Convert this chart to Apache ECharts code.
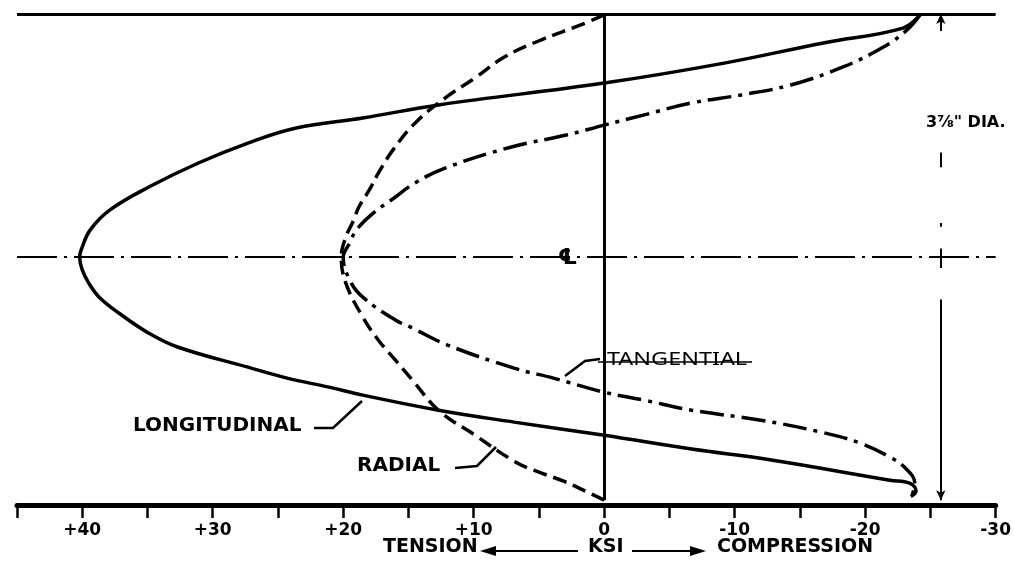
<!DOCTYPE html>
<html>
<head>
<meta charset="utf-8">
<script src="https://cdn.jsdelivr.net/npm/echarts@6/dist/echarts.min.js"></script>
<style>
html,body{margin:0;padding:0;background:#fff;}
#chart{width:1014px;height:567px;}
</style>
</head>
<body>
<div id="chart"></div>
<script>
// Stress (KSI, + = tension) vs. normalized radial position r/R (+1 top surface, -1 bottom surface)
const longitudinal = [[-24.2,0.996],[-22.9,0.942],[-16.8,0.881],[-9.2,0.798],[0,0.716],[12.7,0.626],[18.5,0.572],[23.6,0.531],[27.3,0.469],[31.1,0.387],[34.9,0.288],[37.9,0.193],[39.4,0.111],[40.0,0.041],[40.2,0],[40.0,-0.053],[39.5,-0.107],[38.7,-0.165],[37.2,-0.230],[34.9,-0.313],[32.7,-0.370],[27.3,-0.453],[24.3,-0.498],[21.1,-0.535],[18.5,-0.568],[12.7,-0.630],[6.9,-0.679],[0,-0.733],[-6.7,-0.790],[-12.8,-0.835],[-21.9,-0.918],[-23.4,-0.93],[-23.9,-0.962],[-23.5,-0.985]];
const radial = [[0,0.996],[1.8,0.955],[4.85,0.893],[7.65,0.823],[9.9,0.737],[12.2,0.654],[14.5,0.551],[16.2,0.440],[17.3,0.346],[18.0,0.276],[18.8,0.206],[19.2,0.152],[19.8,0.082],[20.15,0],[19.8,-0.107],[18.5,-0.247],[17.3,-0.342],[16.0,-0.424],[14.7,-0.506],[12.7,-0.630],[9.9,-0.733],[6.9,-0.840],[5.4,-0.877],[3.1,-0.922],[1.6,-0.959],[0,-1.0]];
const tangential = [[-24.2,0.996],[-23.2,0.934],[-21.4,0.864],[-18.3,0.782],[-14.3,0.708],[-10.5,0.667],[-6.7,0.634],[-3.0,0.584],[0,0.543],[2.9,0.502],[7.1,0.453],[12.2,0.366],[14.5,0.305],[16.0,0.247],[17.7,0.181],[19.0,0.111],[19.5,0.058],[20.0,0],[19.5,-0.095],[18.5,-0.165],[16.0,-0.259],[14.7,-0.292],[12.0,-0.362],[6.9,-0.457],[3.9,-0.498],[0,-0.556],[-3.0,-0.588],[-6.7,-0.630],[-12.0,-0.671],[-16.6,-0.720],[-19.6,-0.765],[-21.9,-0.823],[-23.0,-0.864],[-23.8,-0.930],[-23.6,-0.979]];
const xTickLabels = {'40':'+40','30':'+30','20':'+20','10':'+10','0':'0','-10':'-10','-20':'-20','-30':'-30'};
const dimX = -25.8;

const chart = echarts.init(document.getElementById('chart'));
const FONT = 'DejaVu Sans';
const blk = '#000';

const option = {
  backgroundColor: '#fff',
  animation: false,
  grid: {left: 17, right: 7, top: 14, bottom: 62},
  xAxis: {
    type: 'value', min: -30, max: 45, interval: 5, inverse: true,
    axisLine: {onZero: false, lineStyle: {color: blk, width: 5}},
    axisTick: {length: 13, lineStyle: {color: blk, width: 2.5}},
    splitLine: {show: false},
    axisLabel: {
      color: blk, fontFamily: FONT, fontWeight: 'bold', fontSize: 17, margin: 17,
      formatter: v => xTickLabels[String(v)] || ''
    }
  },
  yAxis: {type: 'value', min: -1.02, max: 1, show: false},
  series: [
    {type: 'line', name: 'LONGITUDINAL', data: longitudinal, showSymbol: false, smooth: 0.4,
     lineStyle: {color: blk, width: 3.5}},
    {type: 'line', name: 'RADIAL', data: radial, showSymbol: false, smooth: 0.4,
     lineStyle: {color: blk, width: 3.5, type: [14, 7]}},
    {type: 'line', name: 'TANGENTIAL', data: tangential, showSymbol: false, smooth: 0.4,
     lineStyle: {color: blk, width: 3.5, type: [24, 7, 4, 7]}},
    {type: 'line', data: [], silent: true,
     markLine: {
       silent: true, symbol: ['none', 'none'], label: {show: false},
       lineStyle: {color: blk, width: 3, type: 'solid'},
       data: [
         [{coord: [45, 1]}, {coord: [-30, 1]}],
         [{coord: [0, 1]}, {coord: [0, -1.0]}],
         [{coord: [45, 0], lineStyle: {width: 2, type: [40, 7, 3, 7]}}, {coord: [-30, 0]}],
         [{coord: [dimX, 1], symbol: 'arrow', symbolSize: [7, 10], lineStyle: {width: 2}}, {coord: [dimX, 0.93], symbol: 'none'}],
         [{coord: [dimX, 0.43], lineStyle: {width: 2}}, {coord: [dimX, 0.37]}],
         [{coord: [dimX, 0.14], lineStyle: {width: 2}}, {coord: [dimX, 0.125]}],
         [{coord: [dimX, 0.035], lineStyle: {width: 2}}, {coord: [dimX, -0.045]}],
         [{coord: [dimX, -0.175], symbol: 'none', lineStyle: {width: 2}}, {coord: [dimX, -1.0], symbol: 'arrow', symbolSize: [7, 10]}]
       ]
     }}
  ],
  graphic: [
    {type: 'text', left: 133, top: 416, style: {text: 'LONGITUDINAL', font: 'bold 20px "DejaVu Sans"', fill: blk}},
    {type: 'polyline', shape: {points: [[314, 428], [333, 428], [362, 401]]}, style: {stroke: blk, lineWidth: 2.5, fill: null}},
    {type: 'text', left: 357, top: 456, style: {text: 'RADIAL', font: 'bold 20px "DejaVu Sans"', fill: blk}},
    {type: 'polyline', shape: {points: [[455, 468], [477, 466], [496, 447]]}, style: {stroke: blk, lineWidth: 2.5, fill: null}},
    {type: 'text', x: 607, y: 351, scaleX: 1.3, style: {text: 'TANGENTIAL', font: '18px "Noto Sans"', fill: blk}},
    {type: 'line', shape: {x1: 598, y1: 362, x2: 752, y2: 362}, style: {stroke: blk, lineWidth: 1.5}},
    {type: 'polyline', shape: {points: [[600, 359], [585, 361], [565, 376]]}, style: {stroke: blk, lineWidth: 2.5, fill: null}},
    {type: 'text', left: 926, top: 115, style: {text: '3\u215E" DIA.', font: 'bold 16px "DejaVu Sans"', fill: blk}},
    {type: 'text', left: 558, top: 247, style: {text: '\u2104', font: 'bold 22px "DejaVu Sans"', fill: blk}},
    {type: 'text', left: 383, top: 538, style: {text: 'TENSION', font: 'bold 19px "DejaVu Sans"', fill: blk}},
    {type: 'line', shape: {x1: 486, y1: 551, x2: 578, y2: 551}, style: {stroke: blk, lineWidth: 2}},
    {type: 'polygon', shape: {points: [[480, 551], [496, 546], [496, 556]]}, style: {fill: blk}},
    {type: 'text', left: 588, top: 538, style: {text: 'KSI', font: 'bold 19px "DejaVu Sans"', fill: blk}},
    {type: 'line', shape: {x1: 632, y1: 551, x2: 698, y2: 551}, style: {stroke: blk, lineWidth: 2}},
    {type: 'polygon', shape: {points: [[706, 551], [690, 546], [690, 556]]}, style: {fill: blk}},
    {type: 'text', left: 717, top: 538, style: {text: 'COMPRESSION', font: 'bold 19px "DejaVu Sans"', fill: blk}}
  ]
};
chart.setOption(option);
</script>
</body>
</html>
